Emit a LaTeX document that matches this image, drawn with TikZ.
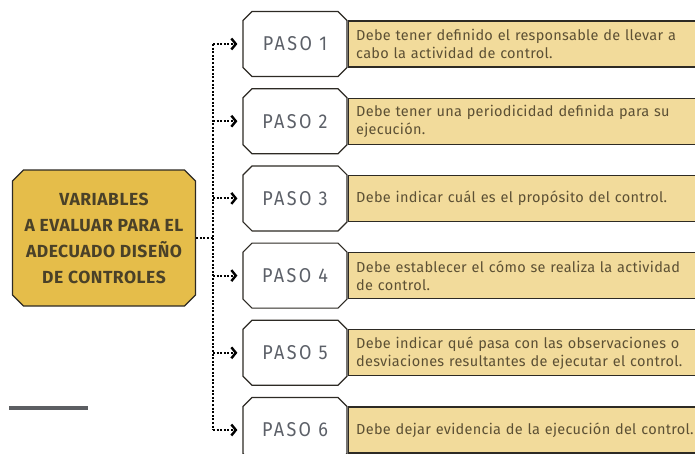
\documentclass[tikz,border=0pt]{standalone}
\usepackage{fontspec}
\setmainfont{Fira Sans}
\newfontfamily\descfont[LetterSpace=2]{Fira Sans}
\newfontfamily\temafont[LetterSpace=3]{Fira Sans}
\newfontfamily\pasofont[LetterSpace=12,FakeStretch=0.9]{Fira Sans}
\usepackage{tikz}
\usetikzlibrary{positioning,shapes.misc,arrows.meta}

\definecolor{oro}{RGB}{229,189,74}
\definecolor{trigo}{RGB}{242,219,155}
\definecolor{borde}{RGB}{45,42,36}
\definecolor{textotema}{RGB}{74,65,40}
\definecolor{textodesc}{RGB}{92,80,52}
\definecolor{textopaso}{RGB}{92,96,104}
\definecolor{linea}{RGB}{92,94,98}

\begin{document}
\begin{tikzpicture}[x=1pt, y=-1pt, > = {Straight Barb[length=4.5pt,width=11pt,line width=2.4pt]}, node distance = 11pt]
            % Estilos
            \tikzstyle{tema}=[chamfered rectangle, chamfered rectangle xsep=5.5pt, chamfered rectangle ysep=5.5pt, draw=borde, line width=1.3pt, fill=oro, minimum width=183pt, minimum height=136pt, inner sep=0pt, align=center, text=textotema, font=\temafont\bfseries\fontsize{17.5}{26}\selectfont]
            \tikzstyle{paso}=[chamfered rectangle, chamfered rectangle xsep=4.5pt, chamfered rectangle ysep=4.5pt, draw=borde, line width=1.2pt, fill=white, minimum width=104pt, minimum height=65pt, inner sep=0pt, text=textopaso, font=\pasofont\fontsize{20}{22}\selectfont]
            \tikzstyle{desc}=[rectangle, draw=borde, line width=1.2pt, fill=trigo, anchor=west, minimum width=370pt, minimum height=46pt, text width=360pt, inner xsep=8pt, align=left, text=textodesc, font=\descfont\fontsize{14.5}{18}\selectfont]
            \tikzstyle{punteado}=[line width=2pt, dash pattern=on 2pt off 1.6pt, draw=black]

            \clip (0,0) rectangle (695,453);

            % Nodos
            \node[tema] (tema) at (104,238) {VARIABLES\\A EVALUAR PARA EL\\ADECUADO DISEÑO\\DE CONTROLES};

            \node[paso] (p1) at (295,44) {PASO 1};
            \node[paso, below=of p1] (p2) {PASO 2};
            \node[paso, below=of p2] (p3) {PASO 3};
            \node[paso, below=of p3] (p4) {PASO 4};
            \node[paso, below=of p4] (p5) {PASO 5};
            \node[paso, below=of p5] (p6) {PASO 6};

            \node[desc] (d1) at (p1.east) {Debe tener definido el responsable de llevar a\\cabo la actividad de control.};
            \node[desc] (d2) at (p2.east) {Debe tener una periodicidad definida para su\\ejecución.};
            \node[desc] (d3) at (p3.east) {Debe indicar cuál es el propósito del control.};
            \node[desc] (d4) at (p4.east) {Debe establecer el cómo se realiza la actividad\\de control.};
            \node[desc] (d5) at (p5.east) {Debe indicar qué pasa con las observaciones o\\desviaciones resultantes de ejecutar el control.};
            \node[desc] (d6) at (p6.east) {Debe dejar evidencia de la ejecución del control.};

            \coordinate (tronco) at (213,241);

            % Conectores
            \draw[punteado] (tema.east) -- (tema.east -| tronco);
            \draw[punteado] (tronco |- p1.west) -- (tronco |- p6.west);
            \draw[punteado,->,shorten >=5pt] (tronco |- p1.west) -- (p1.west);
            \draw[punteado,->,shorten >=5pt] (tronco |- p2.west) -- (p2.west);
            \draw[punteado,->,shorten >=5pt] (tronco |- p3.west) -- (p3.west);
            \draw[punteado,->,shorten >=5pt] (tronco |- p4.west) -- (p4.west);
            \draw[punteado,->,shorten >=5pt] (tronco |- p5.west) -- (p5.west);
            \draw[punteado,->,shorten >=5pt] (tronco |- p6.west) -- (p6.west);

            % Raya
            \draw[linea, line width=3.5pt] (9,408) -- (88,408);
        \end{tikzpicture}
\end{document}
